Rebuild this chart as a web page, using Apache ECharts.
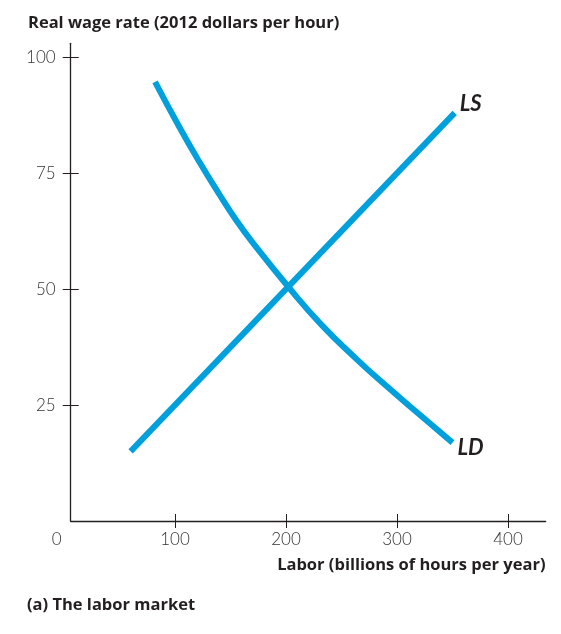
<!DOCTYPE html>
<html>
<head>
<meta charset="utf-8">
<script src="https://cdn.jsdelivr.net/npm/echarts@6/dist/echarts.min.js"></script>
<style>
  html, body { margin: 0; padding: 0; background: #fff; }
  #laborMarket { width: 561px; height: 634px; }
</style>
</head>
<body>
<div id="laborMarket"></div>
<script>
// tick values
const xTicks = [100, 200, 300, 400];
const yTicks = [25, 50, 75, 100];

// labor supply (straight line) and labor demand (curve)
const lsPoints = [[60, 15], [352, 88]];
const ldPoints = [
  [82, 94.7], [104, 84.9], [122, 77.4], [140, 70.4], [155, 64.9], [171, 59.7],
  [202, 50.5], [232, 42.3], [264, 34.8], [290, 29.2], [320, 23.0], [350, 16.9]
];

const blue = "#00a0dc";
const ink = "#231f20";
const labelFont = "Lato, 'Open Sans', sans-serif";
const titleFont = "'Open Sans', Lato, sans-serif";

let myChart = echarts.init(document.getElementById("laborMarket"));

let option = {
  backgroundColor: "#fff",
  animation: false,
  title: [
    {
      text: "Real wage rate (2012 dollars per hour)",
      left: 28, top: 15, padding: 0,
      textStyle: { fontFamily: titleFont, fontWeight: "bold", fontSize: 16.5, color: ink }
    },
    {
      text: "Labor (billions of hours per year)",
      right: 15.5, top: 557, padding: 0,
      textStyle: { fontFamily: titleFont, fontWeight: "bold", fontSize: 16.5, color: ink }
    },
    {
      text: "(a) The labor market",
      left: 27, top: 597, padding: 0,
      textStyle: { fontFamily: titleFont, fontWeight: "bold", fontSize: 16.5, color: ink }
    }
  ],
  grid: { left: 70.7, right: 15.3, top: 43.3, bottom: 113 },
  xAxis: [
    {
      type: "value", min: 6, max: 434,
      splitLine: { show: false },
      axisLine: { lineStyle: { color: ink, width: 1.3 } },
      axisTick: { show: true, length: 7, customValues: xTicks, lineStyle: { color: ink } },
      axisLabel: {
        customValues: [6].concat(xTicks),
        margin: 10,
        fontFamily: labelFont, fontWeight: 300, fontSize: 17, color: "#333",
        formatter: function (v) { return v === 6 ? "{z|0}" : String(v); },
        rich: { z: { fontFamily: labelFont, fontWeight: 300, fontSize: 17, color: "#333", padding: [0, 28, 0, 0] } }
      }
    },
    {
      // inner half of the crossing ticks
      type: "value", min: 6, max: 434, position: "bottom",
      splitLine: { show: false },
      axisLine: { show: false },
      axisLabel: { show: false },
      axisTick: { show: true, inside: true, length: 7, customValues: xTicks, lineStyle: { color: ink } }
    }
  ],
  yAxis: [
    {
      type: "value", min: 0, max: 103,
      splitLine: { show: false },
      axisLine: { show: true, lineStyle: { color: ink, width: 1.3 } },
      axisTick: { show: true, length: 8, customValues: yTicks, lineStyle: { color: ink } },
      axisLabel: {
        customValues: yTicks,
        margin: 15,
        fontFamily: labelFont, fontWeight: 300, fontSize: 17, color: "#333"
      }
    },
    {
      type: "value", min: 0, max: 103, position: "left",
      splitLine: { show: false },
      axisLine: { show: false },
      axisLabel: { show: false },
      axisTick: { show: true, inside: true, length: 8, customValues: yTicks, lineStyle: { color: ink } }
    }
  ],
  series: [
    {
      name: "LS",
      type: "line",
      data: lsPoints,
      symbol: "none",
      lineStyle: { color: blue, width: 6, cap: "butt" },
      endLabel: {
        show: true, formatter: "LS", distance: 5, offset: [0, -9],
        fontFamily: labelFont, fontStyle: "italic", fontWeight: "bold", fontSize: 22, color: ink
      }
    },
    {
      name: "LD",
      type: "line",
      data: ldPoints,
      smooth: 0.5,
      symbol: "none",
      lineStyle: { color: blue, width: 6, cap: "butt" },
      endLabel: {
        show: true, formatter: "LD", distance: 5, offset: [0, 5],
        fontFamily: labelFont, fontStyle: "italic", fontWeight: "bold", fontSize: 22, color: ink
      }
    }
  ]
};

myChart.setOption(option);
</script>
</body>
</html>
